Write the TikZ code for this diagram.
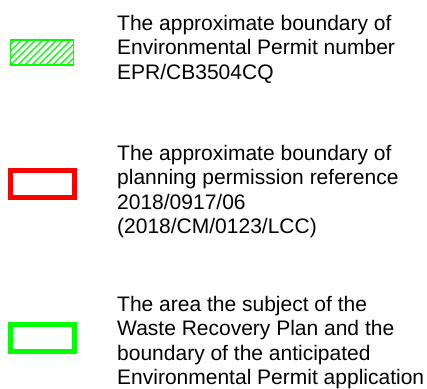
\documentclass[tikz,border=0pt]{standalone}
\usepackage{fontspec}
\setmainfont{Liberation Sans}
\definecolor{keygreen}{RGB}{0,255,0}
\definecolor{keyred}{RGB}{255,0,0}

\begin{document}
\begin{tikzpicture}[x=1pt, y=-1pt,
  keybox/.style={rectangle, minimum width=64pt, minimum height=27pt, inner sep=0pt},
  keytext/.style={anchor=base west, align=left, inner sep=0pt, font=\fontsize{21}{24.5}\selectfont}]
\useasboundingbox (0,0) rectangle (427,388);
% Keys
\node[keybox, draw=keygreen, line width=1.3pt, minimum width=63pt, minimum height=25pt,
  path picture={
    \foreach \i in {-35,-28,...,70}
      \draw[keygreen, line width=1.3pt] ([xshift=\i pt]path picture bounding box.south west) -- ++(30pt,30pt);
  }] (epr) at (42.3,52.5) {};
\node[keybox, draw=keyred, line width=5pt] (plan) at (42.5,184) {};
\node[keybox, draw=keygreen, line width=5pt] (wrp) at (42.5,337.5) {};

% Texts (placed by the baseline of their last line)
\node[keytext] (eprtext) at (117,79) {The approximate boundary of\\Environmental Permit number\\EPR/CB3504CQ};
\node[keytext] (plantext) at (117,233.5) {The approximate boundary of\\planning permission reference\\2018/0917/06\\(2018/CM/0123/LCC)};
\node[keytext] (wrptext) at (117,384.5) {The area the subject of the\\Waste Recovery Plan and the\\boundary of the anticipated\\Environmental Permit application};
\end{tikzpicture}
\end{document}
